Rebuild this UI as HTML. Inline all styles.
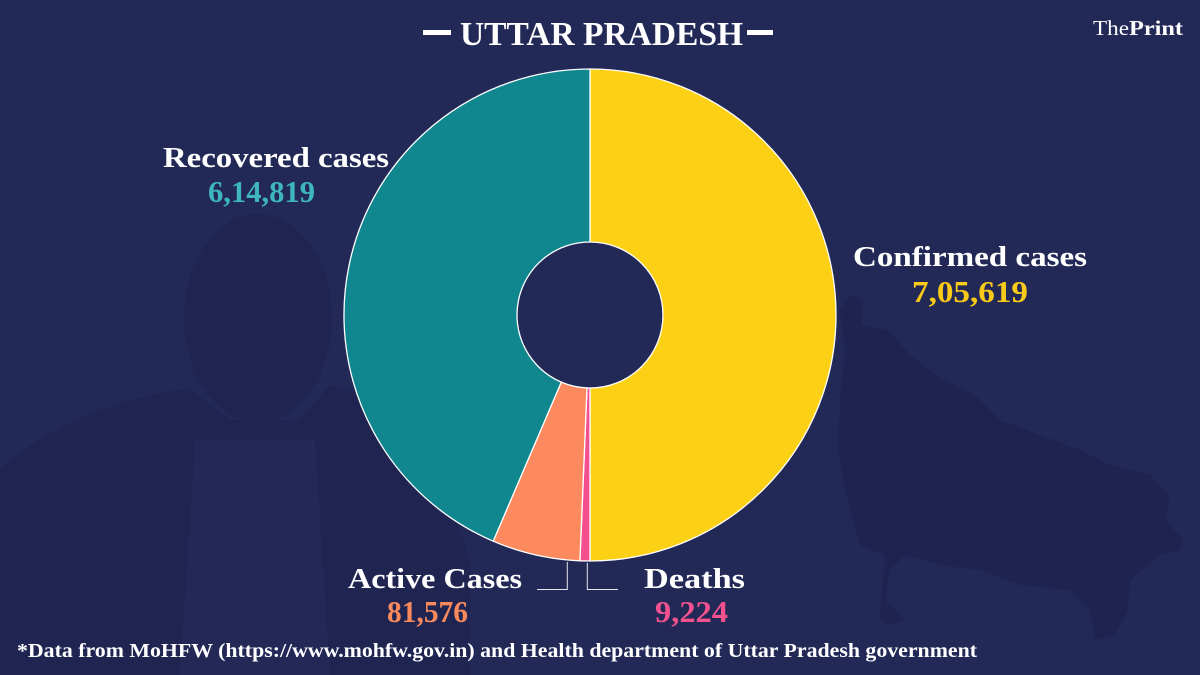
<!DOCTYPE html>
<html>
<head>
<meta charset="utf-8">
<style>
  html,body{margin:0;padding:0;background:#232957;}
  svg{display:block;}
  text{font-family:"Liberation Serif","DejaVu Serif",serif;}
</style>
</head>
<body>
<svg width="1200" height="675" viewBox="0 0 1200 675" xmlns="http://www.w3.org/2000/svg">
  <rect x="0" y="0" width="1200" height="675" fill="#232957"/>

  <!-- man silhouette (subtle) -->
  <g fill="#1f2451" opacity="0.9">
    <ellipse cx="258" cy="318" rx="74" ry="104"/>
    <path d="M0,675 L0,470 C40,430 110,400 190,388 L230,420 L300,420 L330,385 C380,395 420,430 440,470 L470,560 L470,675 Z"/>
  </g>
  <g fill="#252b5a" opacity="0.7">
    <path d="M195,440 L315,440 L330,675 L180,675 Z"/>
  </g>

  <!-- UP map silhouette -->
  <path fill="#1e2350" d="M850,295 L862,300 L862,325 L888,330 L910,355 L940,378 L975,395 L1000,420 L1040,435 L1080,450 L1110,465 L1150,475 L1170,495 L1165,520 L1183,540 L1180,550 L1160,555 L1130,580 L1128,610 L1115,635 L1095,640 L1090,610 L1070,590 L1020,585 L980,570 L940,565 L905,555 L890,570 L885,600 L905,620 L890,625 L880,620 L882,590 L885,555 L860,545 L845,490 L838,450 L840,400 L845,350 L840,310 Z"/>

  <!-- Title -->
  <rect x="423" y="30" width="28" height="5" fill="#ffffff"/>
  <rect x="747" y="30" width="26" height="5" fill="#ffffff"/>
  <text x="460" y="45" font-size="34" font-weight="bold" fill="#ffffff" textLength="283" lengthAdjust="spacingAndGlyphs">UTTAR PRADESH</text>

  <!-- ThePrint logo -->
  <text x="1093" y="35" font-size="21" fill="#ffffff"><tspan textLength="36" lengthAdjust="spacingAndGlyphs">The</tspan><tspan font-weight="bold" textLength="54" lengthAdjust="spacingAndGlyphs">Print</tspan></text>

  <!-- Donut -->
  <g stroke="#ffffff" stroke-width="1.3" stroke-linejoin="round">
    <path fill="#fbd015" d="M590,69 A246,246 0 0 1 590,561 L590,388 A73,73 0 0 0 590,242 Z"/>
    <path fill="#f4508f" d="M590,561 A246,246 0 0 1 579.90,560.79 L587.00,387.94 A73,73 0 0 0 590,388 Z"/>
    <path fill="#fc8a5e" d="M579.90,560.79 A246,246 0 0 1 493.22,541.17 L561.28,382.12 A73,73 0 0 0 587.00,387.94 Z"/>
    <path fill="#10878f" d="M493.22,541.17 A246,246 0 0 1 590,69 L590,242 A73,73 0 0 0 561.28,382.12 Z"/>
  </g>

  <!-- Leader lines -->
  <g stroke="#e6e6ee" stroke-width="1" fill="none">
    <path d="M567.3,562 L567.3,589.5 L537,589.5"/>
    <path d="M587.3,563 L587.3,589.5 L618,589.5"/>
  </g>

  <!-- Labels -->
  <text x="163" y="167" font-size="28" font-weight="bold" fill="#ffffff" textLength="226" lengthAdjust="spacingAndGlyphs">Recovered cases</text>
  <text x="208" y="202" font-size="31" font-weight="bold" fill="#3db6be" textLength="107" lengthAdjust="spacingAndGlyphs">6,14,819</text>

  <text x="853" y="266" font-size="28" font-weight="bold" fill="#ffffff" textLength="234" lengthAdjust="spacingAndGlyphs">Confirmed cases</text>
  <text x="912" y="302" font-size="31" font-weight="bold" fill="#f9ca17" textLength="116" lengthAdjust="spacingAndGlyphs">7,05,619</text>

  <text x="348" y="588" font-size="28" font-weight="bold" fill="#ffffff" textLength="174" lengthAdjust="spacingAndGlyphs">Active Cases</text>
  <text x="387" y="622" font-size="31" font-weight="bold" fill="#fa8a5c" textLength="81" lengthAdjust="spacingAndGlyphs">81,576</text>

  <text x="644" y="588" font-size="28" font-weight="bold" fill="#ffffff" textLength="101" lengthAdjust="spacingAndGlyphs">Deaths</text>
  <text x="655" y="622" font-size="31" font-weight="bold" fill="#f3528e" textLength="73" lengthAdjust="spacingAndGlyphs">9,224</text>

  <!-- Footnote -->
  <text x="17" y="657" font-size="20" font-weight="bold" fill="#ffffff" textLength="960" lengthAdjust="spacingAndGlyphs">*Data from MoHFW (https://www.mohfw.gov.in) and Health department of  Uttar Pradesh government</text>
</svg>
</body>
</html>
